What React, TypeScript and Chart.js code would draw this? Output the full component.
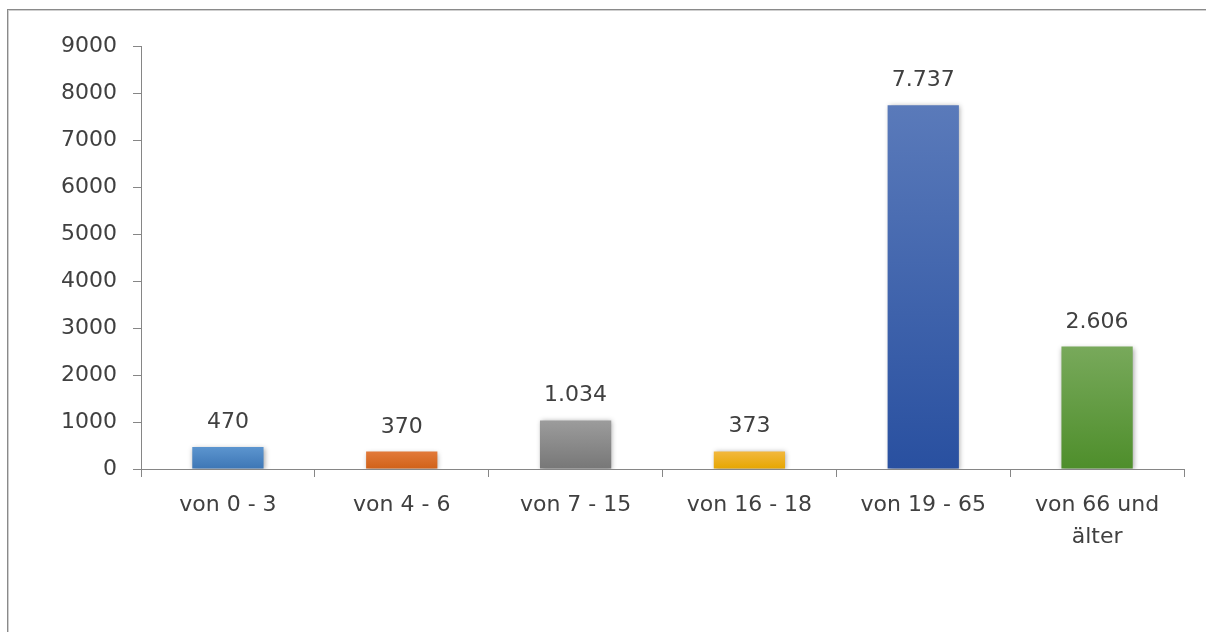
import React, { useEffect, useRef } from "react";
import { Chart, registerables } from "chart.js";

Chart.register(...registerables);

const categories: (string | string[])[] = [
  "von 0 - 3",
  "von 4 - 6",
  "von 7 - 15",
  "von 16 - 18",
  "von 19 - 65",
  ["von 66 und", "älter"],
];
const values: number[] = [470, 370, 1034, 373, 7737, 2606];
const topColors: string[] = ["#5C95CF", "#E27A3A", "#9C9C9C", "#F2B83E", "#5A7ABA", "#78A95B"];
const bottomColors: string[] = ["#3D76B5", "#D06118", "#777777", "#E6A600", "#2950A0", "#4E8E2B"];
const yTicks: number[] = [0, 1000, 2000, 3000, 4000, 5000, 6000, 7000, 8000, 9000];

const FONT = "'DejaVu Sans', sans-serif";
const TEXT = "#404040";
const AXIS = "#868686";

function formatDe(v: number): string {
  const s = String(Math.round(v));
  return s.replace(/\B(?=(\d{3})+(?!\d))/g, ".");
}

const barExtras = {
  id: "barExtras",
  beforeDatasetsDraw(chart: any) {
    const ctx = chart.ctx;
    ctx.save();
    ctx.shadowColor = "rgba(0,0,0,0.35)";
    ctx.shadowBlur = 5;
    ctx.shadowOffsetX = 1;
    ctx.shadowOffsetY = 1;
  },
  afterDatasetsDraw(chart: any) {
    const ctx = chart.ctx;
    ctx.restore();
    const meta = chart.getDatasetMeta(0);
    ctx.save();
    ctx.font = `22px ${FONT}`;
    ctx.fillStyle = TEXT;
    ctx.textAlign = "center";
    ctx.textBaseline = "alphabetic";
    meta.data.forEach((bar: any, i: number) => {
      ctx.fillText(formatDe(values[i]), bar.x, bar.y - 19);
    });
    ctx.restore();
  },
};

export default function App() {
  const canvasRef = useRef<HTMLCanvasElement | null>(null);

  useEffect(() => {
    const canvas = canvasRef.current;
    if (!canvas) return;
    const chart = new Chart(canvas, {
      type: "bar",
      data: {
        labels: categories,
        datasets: [
          {
            data: values,
            backgroundColor: (c: any) => {
              const ch = c.chart;
              const ys = ch.scales && ch.scales.y;
              const i = c.dataIndex ?? 0;
              if (!ys || c.raw === undefined) return topColors[i];
              const top = ys.getPixelForValue(c.raw);
              const bottom = ys.getPixelForValue(0);
              if (!isFinite(top) || !isFinite(bottom) || top === bottom) return topColors[i];
              const g = ch.ctx.createLinearGradient(0, top, 0, bottom);
              g.addColorStop(0, topColors[i]);
              g.addColorStop(1, bottomColors[i]);
              return g;
            },
            borderWidth: 0,
            categoryPercentage: 1,
            barPercentage: 0.41,
          },
        ],
      },
      options: {
        responsive: false,
        animation: false,
        devicePixelRatio: 1,
        layout: { padding: { left: 0, top: 46, right: 22, bottom: 0 } },
        plugins: {
          legend: { display: false },
          tooltip: { enabled: false },
        },
        scales: {
          x: {
            offset: true,
            grid: {
              display: true,
              offset: true,
              drawOnChartArea: false,
              drawTicks: true,
              tickLength: 8,
              color: AXIS,
            },
            border: { display: true, color: AXIS, width: 1 },
            ticks: {
              color: TEXT,
              font: { family: FONT, size: 22, lineHeight: 32 / 22 },
              padding: 12,
              maxRotation: 0,
              autoSkip: false,
            },
            afterFit: (s: any) => {
              s.height = 163;
            },
          },
          y: {
            min: 0,
            max: 9000,
            grid: {
              display: true,
              drawOnChartArea: false,
              drawTicks: true,
              tickLength: 8,
              color: AXIS,
            },
            border: { display: true, color: AXIS, width: 1 },
            afterBuildTicks: (s: any) => {
              s.ticks = yTicks.map((v) => ({ value: v }));
            },
            ticks: {
              color: TEXT,
              font: { family: FONT, size: 22 },
              padding: 16,
              callback: (v: any) => String(v),
            },
            afterFit: (s: any) => {
              s.width = 141;
            },
          },
        },
      },
      plugins: [barExtras],
    });
    return () => chart.destroy();
  }, []);

  return (
    <div
      style={{
        position: "fixed",
        left: 0,
        top: 0,
        width: 1206,
        height: 632,
        overflow: "hidden",
        background: "#ffffff",
      }}
    >
      <div
        style={{
          position: "absolute",
          left: 7,
          top: 9,
          width: 1400,
          height: 900,
          borderTop: "1px solid #8a8a8a",
          borderLeft: "1px solid #8a8a8a",
          boxShadow: "inset 1px 1px 0 #cfcfcf",
          boxSizing: "border-box",
        }}
      />
      <canvas
        ref={canvasRef}
        width={1206}
        height={632}
        style={{ position: "absolute", left: 0, top: 0, width: 1206, height: 632 }}
      />
    </div>
  );
}
